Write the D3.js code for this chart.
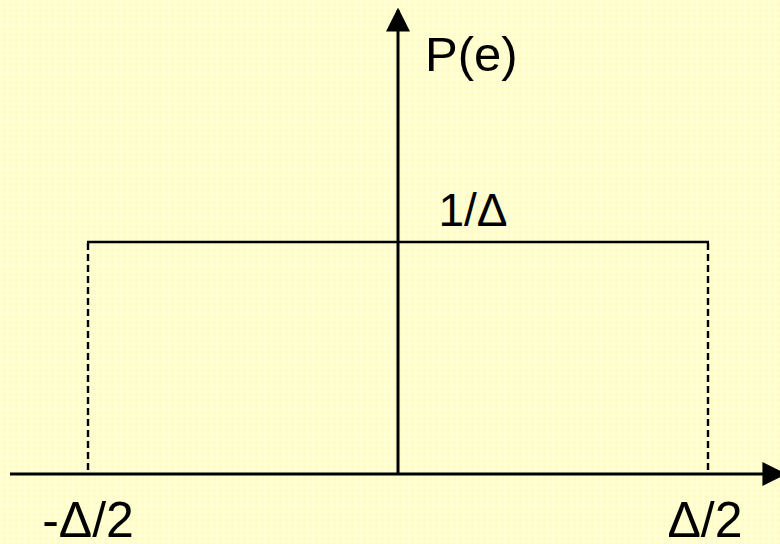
<!DOCTYPE html>
<html>
<head>
<meta charset="utf-8">
<script src="https://cdn.jsdelivr.net/npm/d3@7"></script>
<style>
  html, body { margin: 0; padding: 0; background: #FFFECC; }
  svg { display: block; }
  text { font-family: "Liberation Sans", Arial, sans-serif; fill: #000; }
</style>
</head>
<body>
<svg id="chart" width="780" height="544"></svg>
<script>
// Quantization error e, in units of the step size Δ
const errorTicks = [-0.5, 0.5];
const errorTickLabels = ["-Δ/2", "Δ/2"];
// Uniform density: P(e) = 1/Δ on [-Δ/2, Δ/2]
const densityEdges = [-0.5, 0.5];
const densityValue = [1];
const densityLabel = ["1/Δ"];
const yAxisLabel = ["P(e)"];
const xAxisRange = [-0.6258, 0.6226];
const yAxisRange = [0, 2.0];

const W = 780, H = 544;
const svg = d3.select("#chart");

// subtle paper texture
const defs = svg.append("defs");
const pat = defs.append("pattern")
  .attr("id", "paper").attr("width", 6).attr("height", 6)
  .attr("patternUnits", "userSpaceOnUse");
pat.append("rect").attr("width", 6).attr("height", 6).attr("fill", "#FFFECC");
pat.append("rect").attr("width", 3).attr("height", 3).attr("fill", "#FFFFD8");
pat.append("rect").attr("x", 3).attr("y", 3).attr("width", 3).attr("height", 3).attr("fill", "#FDFBC8");
svg.append("rect").attr("width", W).attr("height", H).attr("fill", "url(#paper)");

const x = d3.scaleLinear().domain([-0.5, 0.5]).range([88, 708]);
const y = d3.scaleLinear().domain([0, 1]).range([474, 242]);

const x0 = x(0), y0 = y(0);

// arrowheads
defs.append("marker")
  .attr("id", "arrow").attr("viewBox", "0 0 10 10")
  .attr("refX", 9).attr("refY", 5)
  .attr("markerUnits", "userSpaceOnUse")
  .attr("markerWidth", 24).attr("markerHeight", 26)
  .attr("orient", "auto")
  .append("path").attr("d", "M0,0 L10,5 L0,10 Z").attr("fill", "#000");

// horizontal axis
svg.append("line")
  .attr("x1", x(xAxisRange[0])).attr("y1", y0)
  .attr("x2", x(xAxisRange[1])).attr("y2", y0)
  .attr("stroke", "#000").attr("stroke-width", 3)
  .attr("marker-end", "url(#arrow)");

// vertical axis
svg.append("line")
  .attr("x1", x0).attr("y1", y0 + 1)
  .attr("x2", x0).attr("y2", y(yAxisRange[1]))
  .attr("stroke", "#000").attr("stroke-width", 3)
  .attr("marker-end", "url(#arrow)");

// density top edge
svg.append("line")
  .attr("x1", x(densityEdges[0]) - 1).attr("y1", y(densityValue[0]))
  .attr("x2", x(densityEdges[1]) + 1).attr("y2", y(densityValue[0]))
  .attr("stroke", "#000").attr("stroke-width", 2.5);

// dashed sides
svg.selectAll(".side").data(densityEdges).join("line")
  .attr("class", "side")
  .attr("x1", d => x(d)).attr("x2", d => x(d))
  .attr("y1", y(densityValue[0]) + 1).attr("y2", y0)
  .attr("stroke", "#000").attr("stroke-width", 2.4)
  .attr("stroke-dasharray", "7,4");

// tick labels
svg.selectAll(".tick-label").data(errorTicks).join("text")
  .attr("class", "tick-label")
  .attr("x", (d, i) => x(d) + (i === 0 ? 0 : -3)).attr("y", 537)
  .attr("text-anchor", "middle")
  .attr("font-size", 50)
  .text((d, i) => errorTickLabels[i]);

// density value label
svg.append("text")
  .attr("x", 473).attr("y", y(densityValue[0]) - 16)
  .attr("text-anchor", "middle")
  .attr("font-size", 46)
  .text(densityLabel[0]);

// axis label
svg.append("text")
  .attr("x", 425).attr("y", 71)
  .attr("font-size", 49)
  .text(yAxisLabel[0]);
</script>
</body>
</html>
